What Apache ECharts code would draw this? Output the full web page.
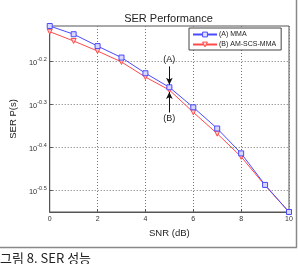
<!DOCTYPE html>
<html>
<head>
<meta charset="utf-8">
<script src="https://cdn.jsdelivr.net/npm/echarts@6/dist/echarts.min.js"></script>
<style>
  html, body { margin: 0; padding: 0; background: #fff; }
  #chart { width: 298px; height: 264px; }
</style>
</head>
<body>
<div id="chart"></div>
<script>
// SNR (dB) 축 값
const snr = [0, 1, 2, 3, 4, 5, 6, 7, 8, 9, 10];
// SER 값
const serMMA = [0.763, 0.730, 0.685, 0.644, 0.592, 0.549, 0.493, 0.440, 0.385, 0.325, 0.281];
const serAMSCS = [0.740, 0.704, 0.667, 0.629, 0.580, 0.541, 0.480, 0.428, 0.378, 0.324, 0.281];
// y축 눈금 (10의 지수)
const yTicks = [-0.5, -0.4, -0.3, -0.2];
const xTicks = [0, 2, 4, 6, 8, 10];

const font = '"Liberation Sans", Arial, sans-serif';
const blue = '#4a4aff';
const red = '#ff4a4a';
const toLog = (arr) => arr.map((v, i) => [snr[i], Math.log10(v)]);
const allLog = serMMA.concat(serAMSCS).map((v) => Math.log10(v));

const chart = echarts.init(document.getElementById('chart'), null, { renderer: 'canvas' });
chart.setOption({
  animation: false,
  backgroundColor: '#fff',
  title: {
    text: 'SER Performance',
    left: 163.5,
    top: 8,
    textAlign: 'center',
    textStyle: { fontFamily: font, fontSize: 11, fontWeight: 'normal', color: '#222' }
  },
  grid: {
    left: 39, right: 9, top: 26, bottom: 52,
    show: true, borderColor: '#555', borderWidth: 1
  },
  legend: {
    left: 189, top: 28,
    orient: 'vertical',
    backgroundColor: '#fff',
    borderColor: '#444', borderWidth: 1,
    padding: [3, 5, 2, 3],
    itemGap: 3,
    itemWidth: 24, itemHeight: 6,
    textStyle: { fontFamily: font, fontSize: 7, color: '#222', padding: [0, 0, 0, -3] },
    data: [
      { name: '(A) MMA', itemStyle: { color: '#e4e4ff', borderColor: blue, borderWidth: 1 } },
      { name: '(B) AM-SCS-MMA', itemStyle: { color: '#ffe0e0', borderColor: red, borderWidth: 1 } }
    ]
  },
  xAxis: {
    type: 'value',
    min: xTicks[0], max: xTicks[xTicks.length - 1], interval: 2,
    name: 'SNR (dB)', nameLocation: 'middle', nameGap: 12,
    nameTextStyle: { fontFamily: font, fontSize: 9.5, color: '#222' },
    axisLine: { lineStyle: { color: '#555' } },
    axisTick: { inside: true, length: 3, lineStyle: { color: '#555' } },
    axisLabel: { fontFamily: font, fontSize: 7, color: '#333', margin: 4 },
    splitLine: { show: true, lineStyle: { color: '#777', type: [1, 2], width: 1 } }
  },
  yAxis: {
    type: 'value',
    min: Math.min(...allLog), max: Math.max(...allLog),
    name: 'SER P(s)', nameLocation: 'middle', nameGap: 26, nameRotate: 90,
    nameTextStyle: { fontFamily: font, fontSize: 9.5, color: '#222' },
    axisLine: { show: true, lineStyle: { color: '#555' } },
    axisTick: { inside: true, length: 3, customValues: yTicks, lineStyle: { color: '#555' } },
    axisLabel: {
      customValues: yTicks,
      margin: 3,
      formatter: (v) => '{b|10}{s|' + v.toFixed(1) + '}',
      rich: {
        b: { fontFamily: font, fontSize: 7.5, color: '#333', padding: [4, 0, 0, 0] },
        s: { fontFamily: font, fontSize: 5.5, color: '#333', padding: [0, 0, 4, 0] }
      }
    },
    splitLine: { show: true, lineStyle: { color: '#777', type: [1, 2], width: 1 } }
  },
  series: [
    {
      name: '(A) MMA',
      type: 'line',
      data: toLog(serMMA),
      symbol: 'rect', symbolSize: 5,
      lineStyle: { color: blue, width: 1 },
      itemStyle: { color: '#d8d8ff', borderColor: blue, borderWidth: 1 },
      z: 3,
      markLine: {
        silent: true,
        symbol: ['none', 'arrow'], symbolSize: [5, 7],
        lineStyle: { color: '#111', type: 'solid', width: 1 },
        label: {
          show: true, position: 'start', distance: 2,
          fontFamily: font, fontSize: 9, color: '#222',
          formatter: (p) => p.data.name
        },
        data: [
          [{ name: '(A)', coord: [5, -0.2117] }, { coord: [5, -0.2545] }],
          [{ name: '(B)', coord: [5, -0.3192] }, { coord: [5, -0.2715] }]
        ]
      }
    },
    {
      name: '(B) AM-SCS-MMA',
      type: 'line',
      data: toLog(serAMSCS),
      symbol: 'triangle', symbolRotate: 180, symbolSize: 5,
      lineStyle: { color: red, width: 1 },
      itemStyle: { color: '#ffd0d0', borderColor: red, borderWidth: 1 },
      z: 2
    }
  ],
  graphic: [
    { type: 'line', shape: { x1: 0, y1: 247.5, x2: 297, y2: 247.5 }, style: { stroke: '#888', lineWidth: 1.5 } },
    { type: 'line', shape: { x1: 296.5, y1: 0, x2: 296.5, y2: 247.5 }, style: { stroke: '#888', lineWidth: 1.5 } },
    {
      type: 'text', left: 0, top: 252,
      style: { text: '그림 8. SER 성능', fontFamily: '"Noto Sans CJK KR", sans-serif', fontSize: 13, fill: '#222' }
    }
  ]
});
</script>
</body>
</html>
